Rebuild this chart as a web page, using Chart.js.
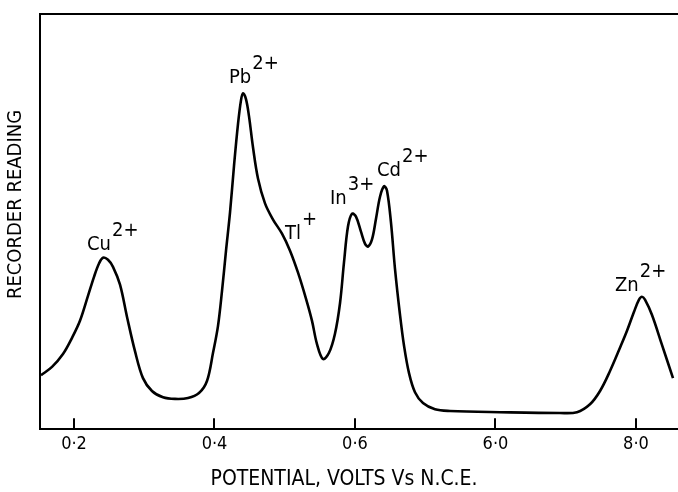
<!DOCTYPE html>
<html>
<head>
<meta charset="utf-8">
<script src="https://cdn.jsdelivr.net/npm/chart.js@4/dist/chart.umd.min.js"></script>
<style>
  html, body { margin: 0; padding: 0; background: #fff; }
  #wrap { width: 678px; height: 492px; }
</style>
</head>
<body>
<div id="wrap"><canvas id="polarogram" width="678" height="492"></canvas></div>
<script>
// Potential (V) and recorder reading (arbitrary units)
const potential = [
  0.1530, 0.1687, 0.1843, 0.1972, 0.2085, 0.2199, 0.2285, 0.2356, 0.2413, 0.2484,
  0.2555, 0.2655, 0.2754, 0.2868, 0.2982, 0.3110, 0.3267, 0.3438, 0.3623, 0.3779,
  0.3893, 0.3979, 0.4050, 0.4107, 0.4164, 0.4221, 0.4278, 0.4334, 0.4377, 0.4406,
  0.4448, 0.4491, 0.4548, 0.4619, 0.4719, 0.4833, 0.4961, 0.5075, 0.5189, 0.5303,
  0.5388, 0.5459, 0.5544, 0.5630, 0.5715, 0.5787, 0.5843, 0.5900, 0.5957, 0.6014,
  0.6085, 0.6142, 0.6185, 0.6242, 0.6299, 0.6356, 0.6413, 0.6455, 0.6512, 0.6569,
  0.6641, 0.6698, 0.6769, 0.6854, 0.6968, 0.7139, 0.7352, 0.8064, 0.8918, 0.9160,
  0.9345, 0.9488, 0.9630, 0.9772, 0.9872, 0.9972, 1.0043, 1.0085, 1.0128, 1.0228,
  1.0370, 1.0527
];
const reading = [
  13.0, 15.0, 18.1, 22.0, 26.1, 32.1, 36.7, 39.9, 41.3, 40.8,
  39.1, 34.8, 27.1, 18.8, 12.3, 9.2, 7.7, 7.3, 7.5, 8.7,
  11.6, 18.4, 24.9, 33.3, 43.0, 52.2, 63.5, 73.4, 79.2, 80.9,
  79.5, 75.4, 67.9, 60.4, 54.4, 50.5, 47.1, 43.0, 37.7, 31.4,
  26.1, 20.5, 16.9, 18.4, 23.0, 30.4, 40.1, 48.8, 51.9, 51.2,
  47.6, 44.7, 44.0, 45.7, 50.7, 56.0, 58.5, 57.5, 49.8, 38.7,
  27.5, 20.1, 13.5, 8.9, 6.3, 4.8, 4.4, 4.1, 3.9, 4.1,
  6.0, 9.2, 14.0, 19.6, 23.7, 28.3, 31.2, 31.9, 31.2, 27.5,
  20.3, 12.3
];

// Axis ticks as printed on the original figure
const tickValues = [0.2, 0.4, 0.6, 0.8, 1.0];
const tickLabels = ["0·2", "0·4", "0·6", "6·0", "8·0"];

// Peak labels: ion, charge, and where the label sits (V, reading)
const ionNames = ["Cu", "Pb", "Tl", "In", "Cd", "Zn"];
const ionCharges = ["2+", "2+", "+", "3+", "2+", "2+"];
const ionLabelX = [0.2185, 0.4206, 0.5004, 0.5644, 0.6313, 0.9701];
const ionLabelY = [43.2, 83.3, 45.7, 54.3, 61.1, 33.3];

window.addEventListener("DOMContentLoaded", () => {
  const ink = "#000";
  const face = "'DejaVu Sans Condensed', 'Liberation Sans Narrow', sans-serif";

  Chart.defaults.font.family = face;
  Chart.defaults.color = ink;

  // inward tick marks, top frame line and the ion labels
  const figureExtras = {
    id: "figureExtras",
    afterDraw(chart) {
      const { ctx, chartArea } = chart;
      const xs = chart.scales.x;
      const ys = chart.scales.y;
      ctx.save();
      ctx.strokeStyle = ink;
      ctx.lineWidth = 2;
      ctx.beginPath();
      ctx.moveTo(chartArea.left, chartArea.top);
      ctx.lineTo(chartArea.right, chartArea.top);
      tickValues.forEach((v) => {
        const px = Math.round(xs.getPixelForValue(v));
        ctx.moveTo(px, chartArea.bottom);
        ctx.lineTo(px, chartArea.bottom - 11);
      });
      ctx.stroke();

      ctx.fillStyle = ink;
      ctx.textBaseline = "alphabetic";
      ctx.font = "20px " + face;
      ionNames.forEach((name, i) => {
        const px = xs.getPixelForValue(ionLabelX[i]);
        const py = ys.getPixelForValue(ionLabelY[i]);
        ctx.fillText(name, px, py);
        const w = ctx.measureText(name).width;
        ctx.fillText(ionCharges[i], px + w + 1, py - 14);
      });
      ctx.restore();
    }
  };

  new Chart(document.getElementById("polarogram"), {
    type: "line",
    data: {
      datasets: [
        {
          data: potential.map((x, i) => ({ x: x, y: reading[i] })),
          borderColor: ink,
          borderWidth: 2.6,
          pointRadius: 0,
          tension: 0.35,
          fill: false
        }
      ]
    },
    options: {
      responsive: false,
      animation: false,
      layout: { padding: { top: 14, right: 0, bottom: 0, left: 0 } },
      plugins: {
        legend: { display: false },
        tooltip: { enabled: false }
      },
      scales: {
        x: {
          type: "linear",
          min: 0.1516,
          max: 1.0598,
          afterBuildTicks: (scale) => {
            scale.ticks = tickValues.map((v) => ({ value: v }));
          },
          grid: { display: false, drawTicks: false },
          border: { color: ink, width: 2 },
          ticks: {
            color: ink,
            padding: 4,
            maxRotation: 0,
            autoSkip: false,
            font: { size: 18 },
            callback: (val, i) => tickLabels[i]
          },
          title: {
            display: true,
            text: "POTENTIAL, VOLTS Vs N.C.E.     ",
            color: ink,
            font: { size: 21 },
            padding: { top: 8, bottom: 0 }
          }
        },
        y: {
          type: "linear",
          min: 0,
          max: 100,
          grid: { display: false, drawTicks: false },
          border: { color: ink, width: 2 },
          ticks: { display: false },
          title: {
            display: true,
            text: "      RECORDER READING",
            color: ink,
            font: { size: 20 },
            padding: { top: 4, bottom: 12 }
          }
        }
      }
    },
    plugins: [figureExtras]
  });
});
</script>
</body>
</html>
